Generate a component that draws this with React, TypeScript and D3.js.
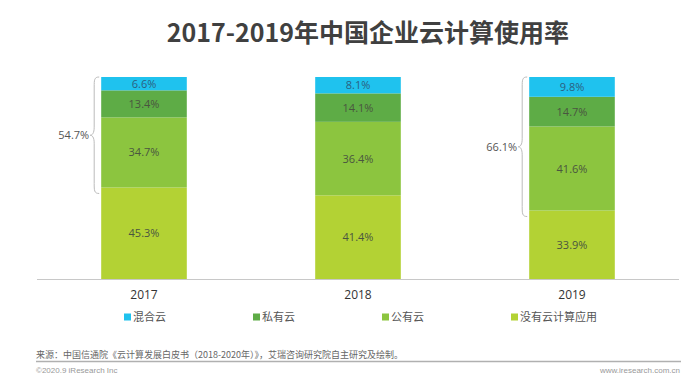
import * as d3 from 'd3';

const years = ['2017', '2018', '2019'];
const seriesNames = ['没有云计算应用', '公有云', '私有云', '混合云'];
const noCloud = [45.3, 41.4, 33.9];
const publicCloud = [34.7, 36.4, 41.6];
const privateCloud = [13.4, 14.1, 14.7];
const hybridCloud = [6.6, 8.1, 9.8];
const colors = ['#b3d234', '#8cc53f', '#5eac46', '#1fc2ee'];
const legendOrder = ['混合云', '私有云', '公有云', '没有云计算应用'];
// braces: year, total shown
const braceYears = ['2017', '2019'];
const braceTotals = [54.7, 66.1];

const width = 700, height = 388;

export default function App() {
    const rows = years.map((y, i) => ({
        year: y,
        '没有云计算应用': noCloud[i],
        '公有云': publicCloud[i],
        '私有云': privateCloud[i],
        '混合云': hybridCloud[i]
    }));
    const stacked = d3.stack<any>().keys(seriesNames)(rows);

    const x = d3.scaleBand().domain(years).range([37, 679]).paddingInner(0.6).paddingOuter(0.3);
    const y = d3.scaleLinear([0, 100], [279, 77]);
    const color = d3.scaleOrdinal<string, string>().domain(seriesNames).range(colors);
    const numFont = '"Open Sans", "Noto Sans CJK SC", sans-serif';
    const cjkFont = '"Noto Sans CJK SC", sans-serif';

    const brace = (xr: number, y0: number, y1: number) => {
        const w = 9, m = (y0 + y1) / 2;
        const xl = xr - w;
        return `M${xr},${y0} C${xl + 4},${y0} ${xl + 4},${y0 + 3} ${xl + 4},${y0 + 10}
                L${xl + 4},${m - 8} C${xl + 4},${m - 2} ${xl + 2},${m} ${xl},${m}
                C${xl + 2},${m} ${xl + 4},${m + 2} ${xl + 4},${m + 8}
                L${xl + 4},${y1 - 10} C${xl + 4},${y1 - 3} ${xl + 4},${y1} ${xr},${y1}`;
    };

    return (
        <svg width={width} height={height} style={{position: 'absolute', left: 0, top: 0, background: '#fff'}}>
            <text x={368} y={42} textAnchor="middle" fontFamily={cjkFont} fontWeight="bold" fontSize={25} fill="#404040">
                2017-2019年中国企业云计算使用率
            </text>
            {stacked.map(s => (
                <g key={s.key} fill={color(s.key)}>
                    {s.map((d, i) => (
                        <g key={i}>
                            <rect x={x(years[i])} y={y(d[1])} width={x.bandwidth()} height={y(d[0]) - y(d[1])}/>
                            <text x={x(years[i])! + x.bandwidth() / 2} y={(y(d[0]) + y(d[1])) / 2 + 4}
                                  textAnchor="middle" fontFamily={numFont} fontSize={11}
                                  fill={s.key === '混合云' ? '#2b5f80' : '#4a5540'}>
                                {(d[1] - d[0]).toFixed(1)}%
                            </text>
                        </g>
                    ))}
                </g>
            ))}
            {braceYears.map((yr, i) => {
                const xr = x(yr)! - 2;
                const y0 = y(100), y1 = y(100 - braceTotals[i]) + 6;
                return (
                    <g key={yr}>
                        <path d={brace(xr, y0, y1)} fill="none" stroke="#bbbbbb" strokeWidth={1}/>
                        <text x={xr - 10} y={(y0 + y1) / 2 + 4} textAnchor="end" fontFamily={numFont} fontSize={11} fill="#555">
                            {braceTotals[i].toFixed(1)}%
                        </text>
                    </g>
                );
            })}
            <line x1={37} x2={679} y1={279.5} y2={279.5} stroke="#c8c8c8" strokeWidth={1}/>
            {years.map(yr => (
                <text key={yr} x={x(yr)! + x.bandwidth() / 2} y={299} textAnchor="middle" fontFamily={numFont} fontSize={12} fill="#333">
                    {yr}
                </text>
            ))}
            {legendOrder.map((name, i) => (
                <g key={name} transform={`translate(${124 + i * 129},317)`}>
                    <rect x={0} y={-3.5} width={7} height={7} fill={color(name)}/>
                    <text x={9} y={4} fontFamily={cjkFont} fontSize={11} fill="#555">{name}</text>
                </g>
            ))}
            <text x={36} y={358} fontFamily={cjkFont} fontSize={9} fill="#666">
                来源：中国信通院《云计算发展白皮书（2018-2020年）》，艾瑞咨询研究院自主研究及绘制。
            </text>
            <line x1={36} x2={681} y1={361.5} y2={361.5} stroke="#b0b0b0" strokeWidth={1.5}/>
            <text x={36} y={373} fontFamily='"Liberation Sans", sans-serif' fontSize={8} fill="#999">©2020.9 iResearch Inc</text>
            <text x={680} y={373} textAnchor="end" fontFamily='"Liberation Sans", sans-serif' fontSize={8} fill="#999">www.iresearch.com.cn</text>
        </svg>
    );
}
